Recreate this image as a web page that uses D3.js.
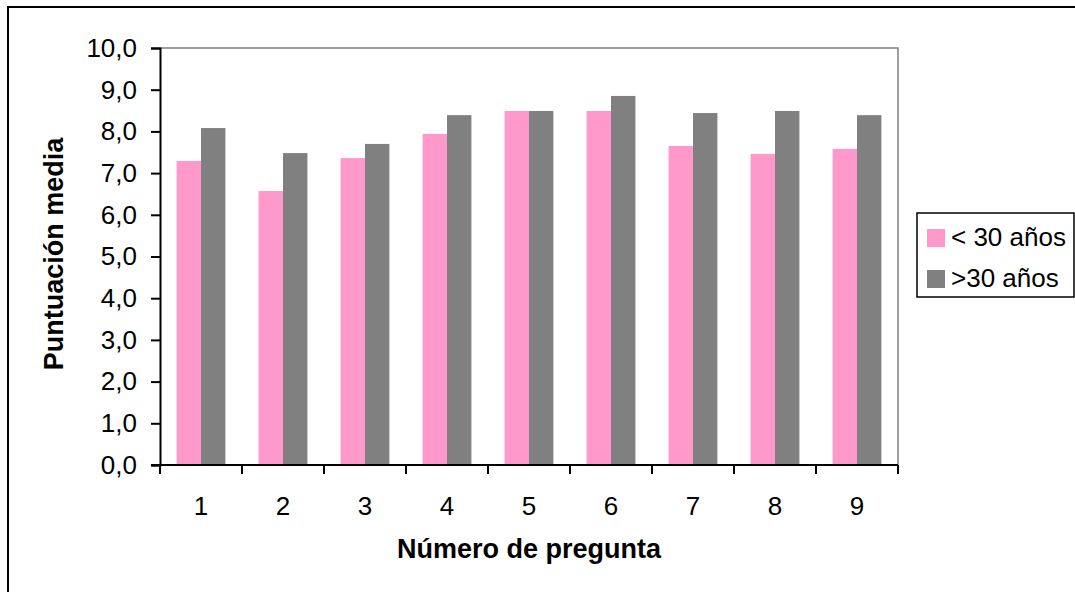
<!DOCTYPE html>
<html>
<head>
<meta charset="utf-8">
<script src="https://cdn.jsdelivr.net/npm/d3@7"></script>
<style>
  html, body { margin: 0; padding: 0; background: #fff; }
  svg { display: block; font-family: "Liberation Sans", Arial, sans-serif; }
</style>
</head>
<body>
<svg id="chart" width="1075" height="592"></svg>
<script>
// Question numbers and mean scores per age group
const questions = ["1", "2", "3", "4", "5", "6", "7", "8", "9"];
const seriesNames = ["< 30 años", ">30 años"];
const under30 = [7.29, 6.57, 7.36, 7.94, 8.49, 8.49, 7.65, 7.46, 7.58];
const over30 = [8.08, 7.48, 7.70, 8.39, 8.49, 8.85, 8.44, 8.49, 8.39];
const yTicks = [0, 1, 2, 3, 4, 5, 6, 7, 8, 9, 10];
const colors = ["#FF99CC", "#808080"];

const svg = d3.select("#chart");
const plot = { left: 160, top: 48, right: 898, bottom: 465 };

// Outer chart frame (right and bottom edges run past the canvas)
svg.append("rect")
  .attr("x", 8).attr("y", 7)
  .attr("width", 1100).attr("height", 620)
  .attr("fill", "#fff").attr("stroke", "#000").attr("stroke-width", 2);

const x = d3.scaleBand().domain(questions).range([plot.left, plot.right]).paddingInner(0).paddingOuter(0);
const xInner = d3.scaleBand().domain([0, 1]).range([0, x.bandwidth()]).paddingInner(0).paddingOuter(0.68);
const y = d3.scaleLinear().domain([0, 10]).range([plot.bottom, plot.top]);

// Plot area border: gray top and right edges
svg.append("path")
  .attr("d", `M${plot.left},${plot.top}H${plot.right}V${plot.bottom}`)
  .attr("fill", "none").attr("stroke", "#808080").attr("stroke-width", 1.5);

// Bars
const rows = questions.map((q, i) => ({ q, vals: [under30[i], over30[i]] }));
const groups = svg.append("g").selectAll("g").data(rows).join("g")
  .attr("transform", d => `translate(${x(d.q)},0)`);
groups.selectAll("rect").data(d => d.vals.map((v, k) => ({ v, k }))).join("rect")
  .attr("x", d => xInner(d.k))
  .attr("width", xInner.bandwidth())
  .attr("y", d => y(d.v))
  .attr("height", d => y(0) - y(d.v))
  .attr("fill", d => colors[d.k]);

// Y axis
const locale = d3.formatLocale({ decimal: ",", thousands: ".", grouping: [3], currency: ["", "€"] });
const yAxis = d3.axisLeft(y).tickValues(yTicks).tickFormat(locale.format(".1f")).tickSize(9).tickPadding(14);
const gy = svg.append("g").attr("transform", `translate(${plot.left},0)`).call(yAxis);
gy.select(".domain").attr("stroke", "#000").attr("stroke-width", 2);
gy.selectAll(".tick line").attr("stroke", "#000").attr("stroke-width", 2);
gy.selectAll(".tick text").attr("font-size", 26).attr("fill", "#000").attr("font-family", "Liberation Sans, Arial, sans-serif");

// X axis: ticks sit on category boundaries, labels at band centres
const xAxisG = svg.append("g").attr("transform", `translate(0,${plot.bottom})`);
xAxisG.append("line")
  .attr("x1", plot.left - 9).attr("x2", plot.right)
  .attr("stroke", "#000").attr("stroke-width", 2);
const boundaries = questions.map(q => x(q)).concat([plot.right]);
xAxisG.selectAll("line.tk").data(boundaries).join("line").attr("class", "tk")
  .attr("x1", d => d).attr("x2", d => d).attr("y1", 0).attr("y2", 9)
  .attr("stroke", "#000").attr("stroke-width", 2);
xAxisG.selectAll("text").data(questions).join("text")
  .attr("x", d => x(d) + x.bandwidth() / 2)
  .attr("y", 50)
  .attr("text-anchor", "middle")
  .attr("font-size", 26).attr("fill", "#000")
  .text(d => d);

// Axis titles
svg.append("text")
  .attr("x", 529).attr("y", 558)
  .attr("text-anchor", "middle")
  .attr("font-size", 27).attr("font-weight", "bold")
  .text("Número de pregunta");
svg.append("text")
  .attr("transform", "translate(63,254) rotate(-90)")
  .attr("text-anchor", "middle")
  .attr("font-size", 27).attr("font-weight", "bold")
  .text("Puntuación media");

// Legend
const legend = svg.append("g");
legend.append("rect")
  .attr("x", 917).attr("y", 213).attr("width", 157).attr("height", 84)
  .attr("fill", "#fff").attr("stroke", "#000").attr("stroke-width", 1.5);
const items = legend.selectAll("g.item").data(seriesNames).join("g").attr("class", "item")
  .attr("transform", (d, i) => `translate(927,${229 + i * 41})`);
items.append("rect").attr("width", 18).attr("height", 18).attr("fill", (d, i) => colors[i]);
items.append("text").attr("x", 24).attr("y", 16.5).attr("font-size", 26).attr("fill", "#000").text(d => d);
</script>
</body>
</html>
